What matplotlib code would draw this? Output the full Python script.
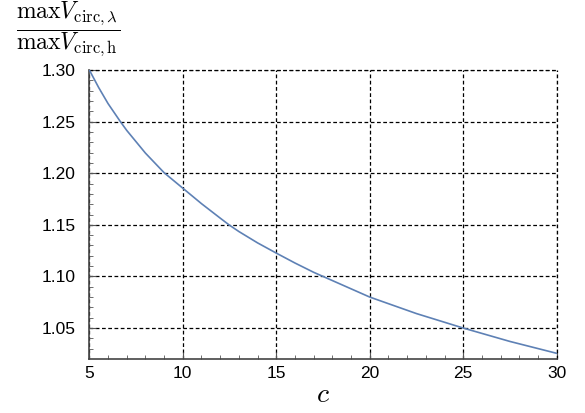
import numpy as np
import matplotlib
matplotlib.use("Agg")
import matplotlib.pyplot as plt
from matplotlib.ticker import MultipleLocator

plt.rcParams['font.family'] = ['Liberation Sans', 'DejaVu Sans']
plt.rcParams['mathtext.fontset'] = 'cm'

# values
c_vals = [5, 5.5, 6, 6.66, 7, 8, 9, 10, 11, 12, 12.47, 13, 14, 15, 16, 17, 17.5,
          18, 20, 22.5, 25, 27.5, 30]
ratio = [1.300, 1.2830, 1.2675, 1.250, 1.2415, 1.2195, 1.2005, 1.1855, 1.1705,
         1.1565, 1.150, 1.1435, 1.1325, 1.1226, 1.113, 1.104, 1.100,
         1.096, 1.080, 1.064, 1.050, 1.037, 1.0255]

xticks = [5, 10, 15, 20, 25, 30]
yticks = [1.05, 1.10, 1.15, 1.20, 1.25, 1.30]

fig = plt.figure(figsize=(5.85, 4.13), dpi=100)
ax = fig.add_axes([0.1527, 0.1315, 0.9516 - 0.1527, 0.8305 - 0.1315])

ax.plot(c_vals, ratio, color='#5E81B5', lw=1.2, zorder=3)

ax.set_xlim(5, 30)
ax.set_ylim(1.0203, 1.30)
ax.set_xticks(xticks)
ax.set_yticks(yticks)
ax.set_yticklabels([f"{v:.2f}" for v in yticks])
ax.xaxis.set_minor_locator(MultipleLocator(1))
ax.yaxis.set_minor_locator(MultipleLocator(0.01))
ax.tick_params(which='both', direction='in', color='#555555', labelsize=12.5,
               top=False, right=False)
ax.tick_params(which='major', length=5)
ax.tick_params(axis='y', which='major', pad=10)
ax.tick_params(axis='x', which='major', pad=5)
ax.tick_params(which='minor', length=3)

for s in ['top', 'right']:
    ax.spines[s].set_visible(False)
for s in ['left', 'bottom']:
    ax.spines[s].set_color('#444444')
    ax.spines[s].set_linewidth(1.2)

ax.grid(True, which='major', color='black', ls=(0, (3, 2)), lw=0.9)
# grid lines at the top and right edges
ax.axhline(1.30, color='black', ls=(0, (3, 2)), lw=0.9, clip_on=False)
ax.axvline(30, color='black', ls=(0, (3, 2)), lw=0.9, clip_on=False)

ax.set_xlabel(r'$c$', fontsize=20, labelpad=1)
fig.text(68 / 585, 1 - 29 / 413,
         r'$\dfrac{\mathrm{max}V_{\mathrm{circ},\lambda}}{\mathrm{max}V_{\mathrm{circ,h}}}$',
         fontsize=17, ha='center', va='center')

fig.savefig('out.png', dpi=100)
